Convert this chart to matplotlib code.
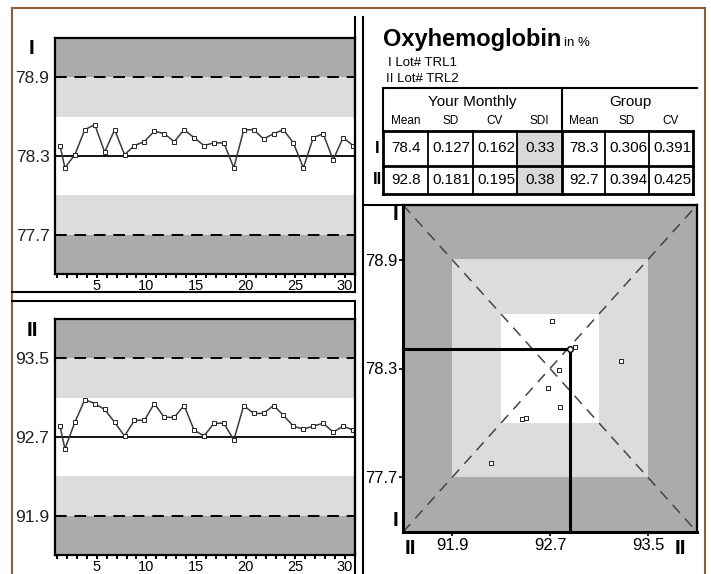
import numpy as np
import matplotlib
matplotlib.use("Agg")
import matplotlib.pyplot as plt
from matplotlib.lines import Line2D
from matplotlib.patches import Rectangle

plt.rcParams['font.family'] = ['Liberation Sans', 'DejaVu Sans']

# data
runs = [1.3] + [d + 0.8 for d in range(1, 31)]
level1 = [78.38, 78.21, 78.31, 78.50, 78.54, 78.33, 78.50, 78.31, 78.38, 78.41, 78.49,
          78.47, 78.41, 78.50, 78.44, 78.38, 78.40, 78.40, 78.21, 78.50, 78.50, 78.43,
          78.47, 78.50, 78.40, 78.21, 78.44, 78.47, 78.27, 78.44, 78.38]
level2 = [92.81, 92.58, 92.85, 93.08, 93.04, 92.98, 92.85, 92.71, 92.87, 92.87, 93.04,
          92.90, 92.90, 93.02, 92.77, 92.71, 92.84, 92.84, 92.67, 93.02, 92.94, 92.94,
          93.02, 92.92, 92.81, 92.78, 92.81, 92.84, 92.75, 92.81, 92.77]
mean1, sd1 = 78.3, 0.3   # group target, level I
mean2, sd2 = 92.7, 0.4   # group target, level II

# youden pairs (level II, level I)
youden_x = [92.72, 92.90, 92.77, 92.68, 92.78, 92.50, 92.47, 93.28, 92.22]
youden_y = [78.56, 78.42, 78.29, 78.19, 78.09, 78.03, 78.02, 78.34, 77.78]

title = "Oxyhemoglobin"
lots = ["I Lot# TRL1", "II Lot# TRL2"]
col_heads = ["Mean", "SD", "CV", "SDI", "Mean", "SD", "CV"]
row_labels = ["I", "II"]
table_rows = [["78.4", "0.127", "0.162", "0.33", "78.3", "0.306", "0.391"],
              ["92.8", "0.181", "0.195", "0.38", "92.7", "0.394", "0.425"]]

W, H = 711, 574
DARK, LIGHT = "#ababab", "#dcdcdc"
fig = plt.figure(figsize=(W / 100, H / 100), dpi=100)


def fx(x):
    return x / W


def fy(y):
    return 1 - y / H


def pline(x0, y0, x1, y1, lw=1.5, color="black"):
    fig.add_artist(Line2D([fx(x0), fx(x1)], [fy(y0), fy(y1)], lw=lw, color=color,
                          transform=fig.transFigure))


def ptext(x, y, s, **kw):
    return fig.text(fx(x), fy(y), s, **kw)


def ax_at(l, t, r, b):
    return fig.add_axes([fx(l), fy(b), (r - l) / W, (b - t) / H])


def lj_chart(ax, vals, m, s, label, lx, ly):
    ax.axhspan(m - 3 * s, m - 2 * s, color=DARK, lw=0)
    ax.axhspan(m + 2 * s, m + 3 * s, color=DARK, lw=0)
    ax.axhspan(m - 2 * s, m - s, color=LIGHT, lw=0)
    ax.axhspan(m + s, m + 2 * s, color=LIGHT, lw=0)
    ax.axhline(m, color="black", lw=1.3)
    for k in (-2, 2):
        ax.axhline(m + k * s, color="black", lw=1.4, dashes=(6, 4))
    ax.plot(runs, vals, color="#3a3a3a", lw=1.1, marker="s", ms=3.2,
            mfc="white", mec="#222222", mew=0.7)
    ax.set_xlim(0.8, 31.0)
    ax.set_ylim(m - 3 * s, m + 3 * s)
    ax.set_yticks([m - 2 * s, m, m + 2 * s])
    ax.set_yticklabels([f"{v:.1f}" for v in (m - 2 * s, m, m + 2 * s)], fontsize=12.5,
                       color="#222222")
    ax.tick_params(axis="y", length=0, pad=4)
    ax.set_xticks(range(5, 31, 5))
    ax.set_xticks(range(1, 31), minor=True)
    ax.tick_params(axis="x", which="both", direction="out", length=3, width=1.4, pad=0.5,
                   labelsize=10.5)
    for sp in ax.spines.values():
        sp.set_linewidth(1.6)
    ptext(lx, ly, label, fontsize=15, fontweight="bold", ha="center", va="center")


# Levey-Jennings charts
ax1 = ax_at(55, 38, 355, 274)
lj_chart(ax1, level1, mean1, sd1, "I", 32, 48)
ax2 = ax_at(55, 319, 355, 555)
lj_chart(ax2, level2, mean2, sd2, "II", 32, 330)

# Youden plot
ay = ax_at(403, 205, 697, 532)
x0, x1 = mean2 - 3 * sd2, mean2 + 3 * sd2
y0, y1 = mean1 - 3 * sd1, mean1 + 3 * sd1
ay.set_facecolor(DARK)
ay.add_patch(Rectangle((mean2 - 2 * sd2, mean1 - 2 * sd1), 4 * sd2, 4 * sd1, color=LIGHT, lw=0))
ay.add_patch(Rectangle((mean2 - sd2, mean1 - sd1), 2 * sd2, 2 * sd1, color="white", lw=0))
ay.plot([x0, x1], [y0, y1], color="#444444", lw=1.1, dashes=(7, 5))
ay.plot([x0, x1], [y1, y0], color="#444444", lw=1.1, dashes=(7, 5))
ay.scatter(youden_x, youden_y, marker="s", s=10, facecolor="white", edgecolor="#222222",
           lw=0.7, zorder=3)
mx, my = np.mean(level2), np.mean(level1)
ay.plot([x0, mx], [my, my], color="black", lw=2.2, solid_capstyle="butt")
ay.plot([mx, mx], [y0, my], color="black", lw=2.2, solid_capstyle="butt")
ay.plot([mx], [my], marker="o", ms=4, mfc="white", mec="black", mew=1, zorder=4)
ay.set_xlim(x0, x1)
ay.set_ylim(y0, y1)
ay.set_xticks([mean2 - 2 * sd2, mean2, mean2 + 2 * sd2])
ay.set_xticklabels([f"{v:.1f}" for v in (mean2 - 2 * sd2, mean2, mean2 + 2 * sd2)])
ay.set_yticks([mean1 - 2 * sd1, mean1, mean1 + 2 * sd1])
ay.set_yticklabels([f"{v:.1f}" for v in (mean1 - 2 * sd1, mean1, mean1 + 2 * sd1)])
ay.tick_params(direction="out", length=3, width=1.2, labelsize=12, pad=1)
for sp in ay.spines.values():
    sp.set_linewidth(1.6)
ay.spines["left"].set_linewidth(2.2)
ay.spines["bottom"].set_linewidth(2.2)
ptext(395, 215, "I", fontsize=15, fontweight="bold", ha="center", va="center")
ptext(395, 521, "I", fontsize=15, fontweight="bold", ha="center", va="center")
ptext(410, 548, "II", fontsize=15, fontweight="bold", ha="center", va="center")
ptext(680, 548, "II", fontsize=15, fontweight="bold", ha="center", va="center")

# title block
t = ptext(383, 46, title, fontsize=17, fontweight="bold", va="baseline")
fig.canvas.draw()
bb = t.get_window_extent()
ptext(bb.x1 + 3, 46, "in %", fontsize=9.5, va="baseline")
ptext(388, 66, lots[0], fontsize=9.5, va="baseline")
ptext(386, 82, lots[1], fontsize=9.5, va="baseline")

# table
cells = [383, 428, 473, 517, 562, 605, 649, 693]
rows_y = [131, 166, 194]
pline(383, 88, 697, 88, lw=1.5)
pline(383, 88, 383, 131, lw=1.5)
pline(562, 88, 562, 131, lw=1.5)
ptext(472, 102, "Your Monthly", fontsize=11, ha="center", va="center")
ptext(630, 102, "Group", fontsize=11, ha="center", va="center")
for i, h in enumerate(col_heads):
    ptext((cells[i] + cells[i + 1]) / 2, 121, h, fontsize=8.5, ha="center", va="center")
for r in range(2):
    fig.add_artist(Rectangle((fx(517), fy(rows_y[r + 1])), 45 / W, (rows_y[r + 1] - rows_y[r]) / H,
                             transform=fig.transFigure, color="#d9d9d9", lw=0))
    ptext(377, (rows_y[r] + rows_y[r + 1]) / 2, row_labels[r], fontsize=12, fontweight="bold",
          ha="center", va="center")
    for i, v in enumerate(table_rows[r]):
        ptext((cells[i] + cells[i + 1]) / 2 + 1, (rows_y[r] + rows_y[r + 1]) / 2, v,
              fontsize=11, ha="center", va="center")
for y in rows_y:
    pline(383, y, 693, y, lw=2)
for x in cells:
    pline(x, 131, x, 194, lw=2 if x in (383, 562, 693) else 1.3)

# panel frames
brown = "#8b5e3c"
pline(12, 8, 705, 8, lw=1.5, color=brown)
pline(12, 8, 12, 574, lw=1.5, color=brown)
pline(705, 8, 705, 574, lw=1.5, color=brown)
pline(355, 17, 355, 292, lw=1.5)
pline(12, 292, 355, 292, lw=1.5)
pline(12, 301, 355, 301, lw=1.5)
pline(355, 301, 355, 574, lw=1.5)
pline(363, 17, 363, 574, lw=1.5)
pline(363, 205, 697, 205, lw=1.5)

fig.savefig("out.png", dpi=100)
